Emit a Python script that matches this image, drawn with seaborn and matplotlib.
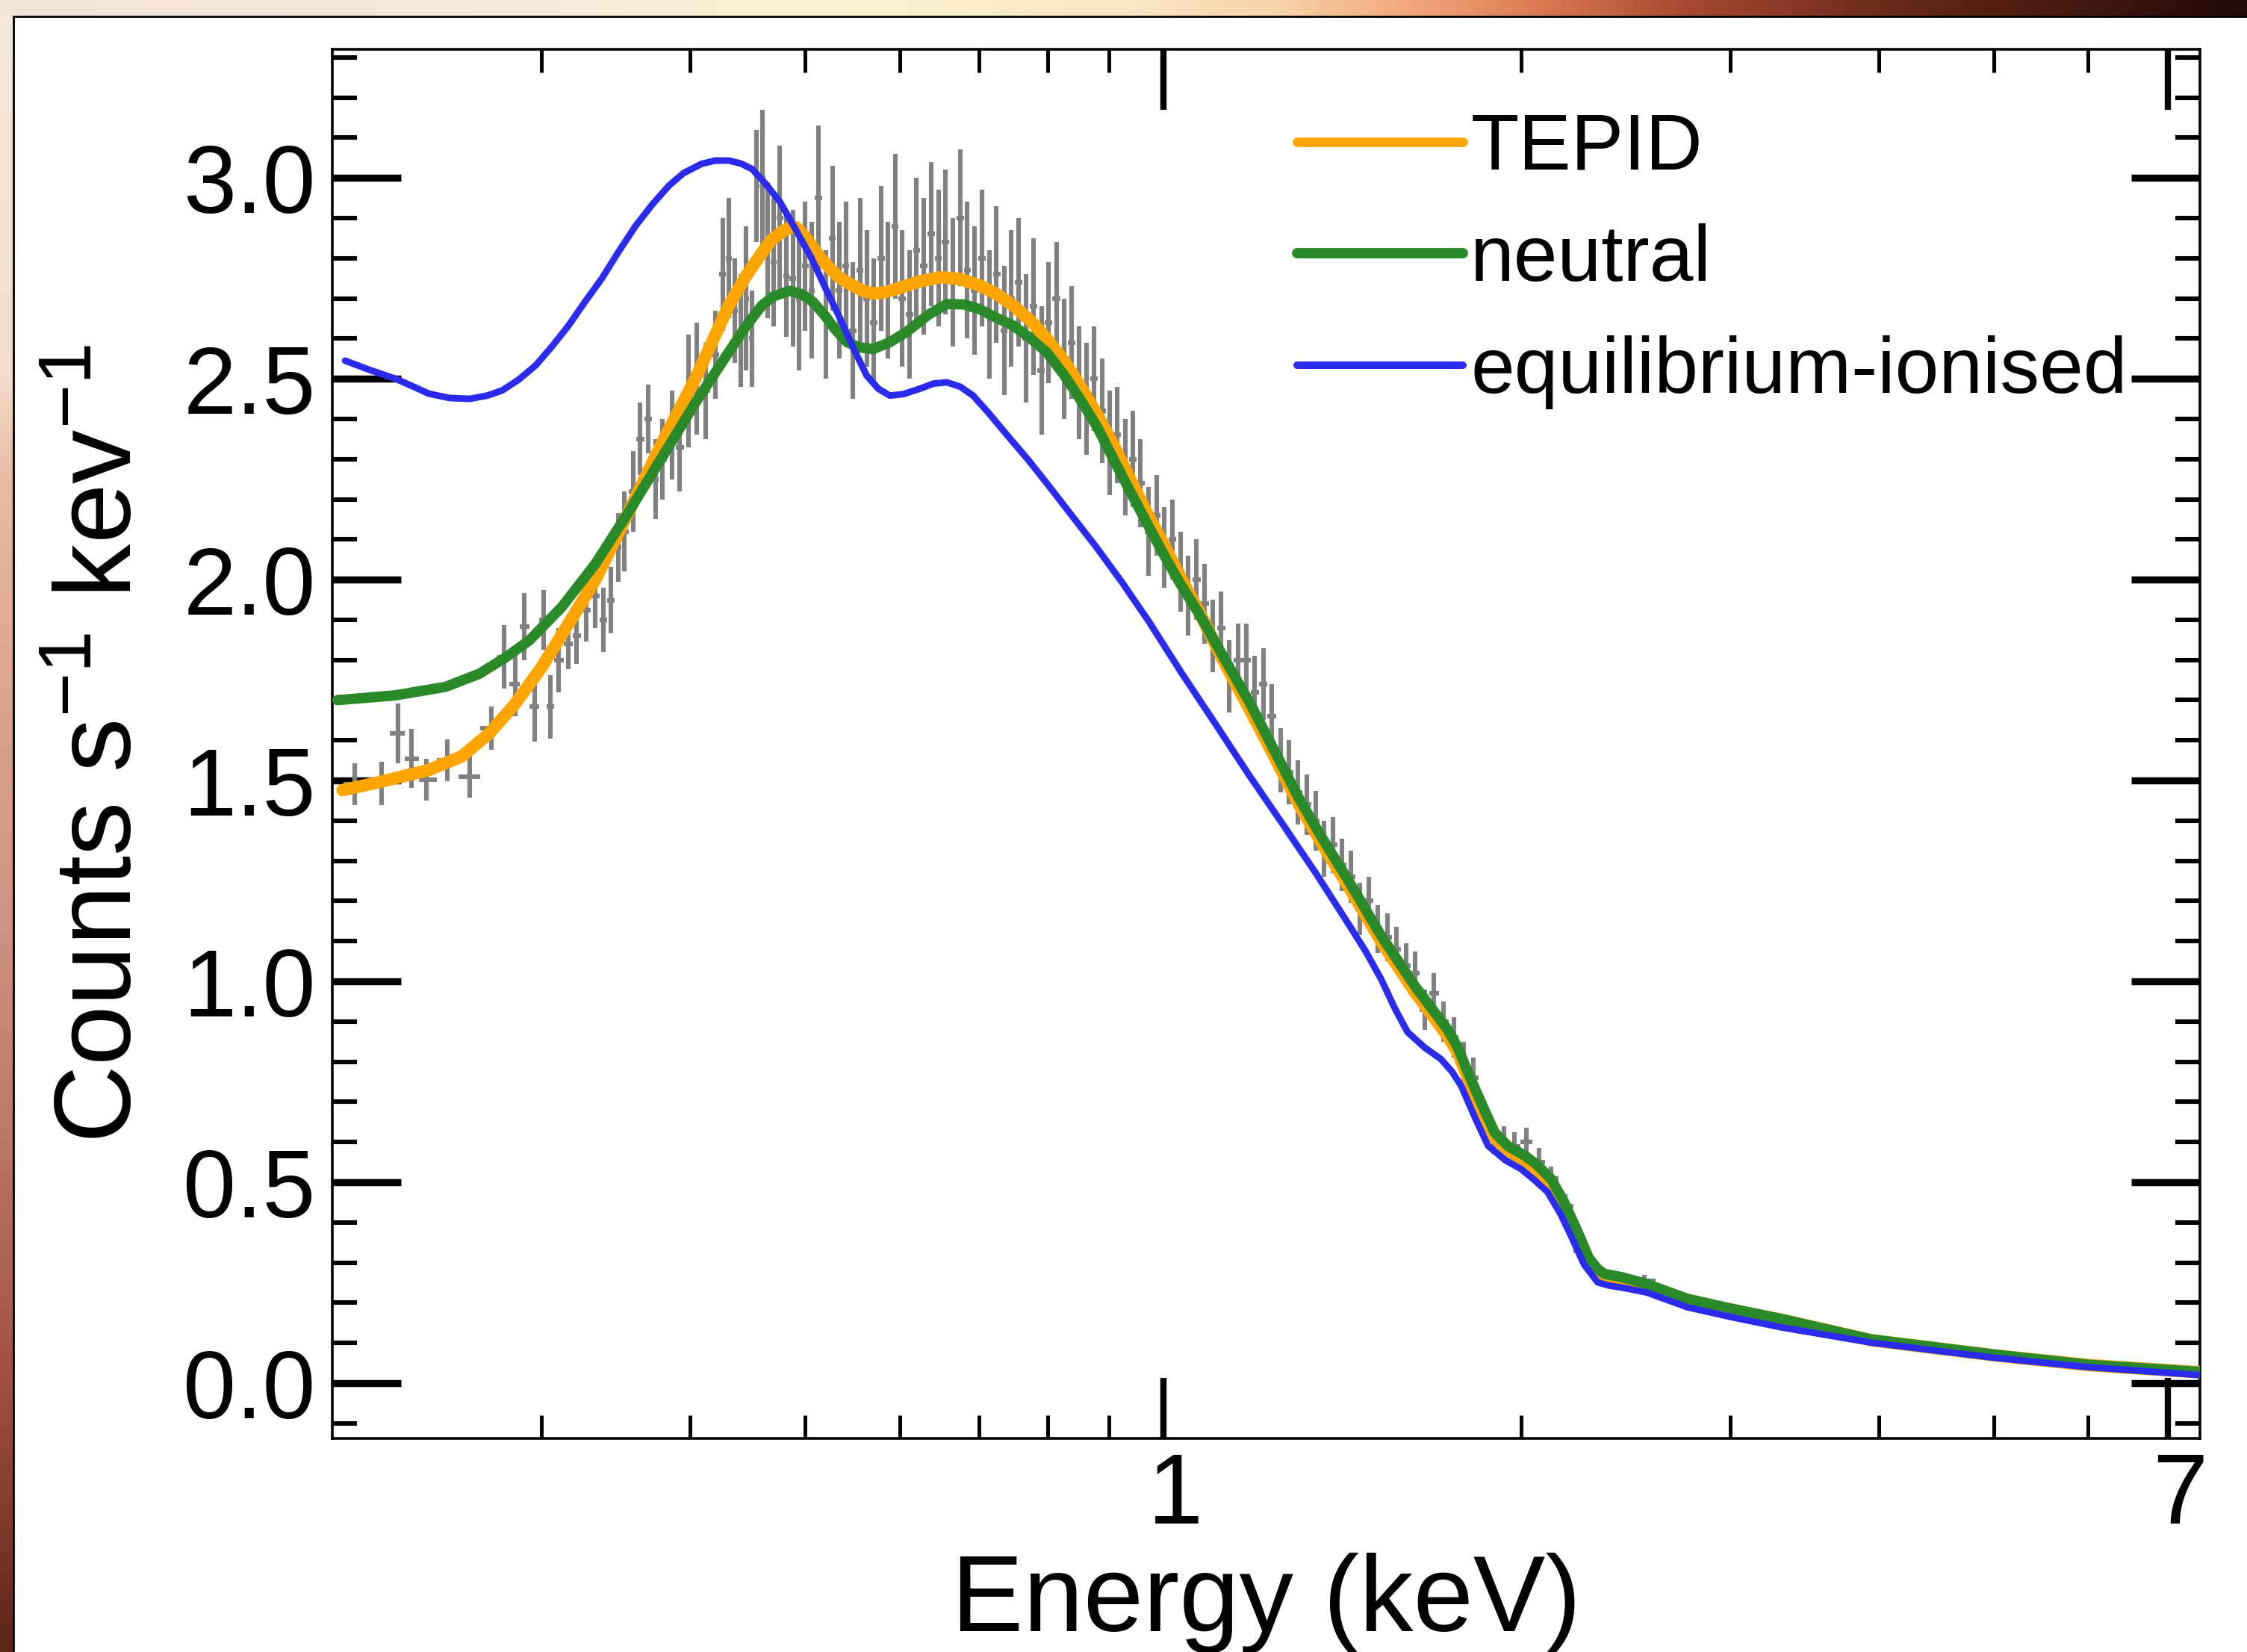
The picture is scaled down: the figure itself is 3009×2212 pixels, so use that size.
import numpy as np
import matplotlib
matplotlib.use("Agg")
import matplotlib.pyplot as plt
import matplotlib.transforms as mtransforms
import seaborn as sns
from matplotlib.colors import LinearSegmentedColormap
from matplotlib.ticker import FixedLocator, FixedFormatter, MultipleLocator, NullFormatter
from matplotlib.lines import Line2D

# ---------------- data ----------------
data_energy = [
    0.209, 0.220, 0.227, 0.233, 0.240, 0.250, 0.261, 0.272, 0.279, 0.285,
    0.290, 0.296, 0.301, 0.305, 0.310, 0.316, 0.321, 0.327, 0.333, 0.338,
    0.343, 0.348,
    0.352, 0.358, 0.363, 0.369, 0.374, 0.379, 0.386, 0.392, 0.399, 0.405,
    0.412, 0.420, 0.426, 0.431, 0.436, 0.441, 0.446, 0.451, 0.455, 0.460,
    0.465, 0.470, 0.476, 0.482, 0.488, 0.494, 0.500, 0.506, 0.513, 0.520,
    0.527, 0.534, 0.541, 0.548, 0.556, 0.563, 0.571, 0.579, 0.587, 0.595,
    0.603, 0.612, 0.620, 0.629, 0.638, 0.647, 0.656, 0.665, 0.675, 0.684,
    0.694, 0.704, 0.714, 0.724, 0.735, 0.745, 0.756, 0.767, 0.778, 0.790,
    0.801, 0.813, 0.825, 0.837, 0.850, 0.862, 0.875, 0.888, 0.901, 0.915,
    0.929, 0.943, 0.957, 0.972, 0.987, 1.002, 1.018, 1.034, 1.050, 1.067,
    1.084, 1.101, 1.119, 1.137, 1.156, 1.175, 1.194, 1.214, 1.234, 1.255,
    1.276, 1.298, 1.320, 1.343, 1.366, 1.390, 1.414, 1.439, 1.464, 1.490,
    1.516, 1.543, 1.571, 1.600, 1.629, 1.659, 1.690, 1.722, 1.755, 1.789,
    1.824, 1.860, 1.897, 1.935, 1.975, 2.020, 2.070, 2.120, 2.180, 2.250,
    2.330, 2.420, 2.540,
]
data_counts = [
    1.490, 1.493, 1.617, 1.555, 1.502, 1.550, 1.509, 1.630, 1.807, 1.740,
    1.883, 1.684, 1.900, 1.684, 1.800, 1.840, 1.860, 1.924, 1.960, 1.900,
    1.949, 2.080,
    2.12, 2.22, 2.35, 2.40, 2.25, 2.30, 2.36, 2.33, 2.47, 2.50,
    2.47, 2.56, 2.76, 2.80, 2.67, 2.62, 2.70, 2.60, 2.98, 3.00,
    2.82, 2.79, 2.90, 2.755, 2.75, 2.70, 2.78, 2.72, 2.95, 2.66,
    2.85, 2.72, 2.78, 2.62, 2.77, 2.70, 2.64, 2.80, 2.72, 2.88,
    2.70, 2.66, 2.82, 2.78, 2.86, 2.80, 2.84, 2.74, 2.90, 2.77,
    2.72, 2.80, 2.66, 2.76, 2.62, 2.70, 2.74, 2.60, 2.68, 2.52,
    2.64, 2.70, 2.55, 2.59, 2.49, 2.45, 2.50, 2.42, 2.34, 2.36,
    2.28, 2.30, 2.24, 2.12, 2.16, 2.08, 2.10, 2.02, 1.96, 2.00,
    1.94, 1.86, 1.88, 1.76, 1.80, 1.80, 1.72, 1.74, 1.66, 1.55,
    1.52, 1.47, 1.44, 1.40, 1.33, 1.34, 1.29, 1.26, 1.18, 1.20,
    1.13, 1.11, 1.08, 1.04, 1.02, 0.93, 0.97, 0.90, 0.86, 0.80,
    0.76, 0.66, 0.61, 0.60, 0.59, 0.60, 0.55, 0.51, 0.44, 0.33,
    0.27, 0.26, 0.255,
]
data_err = [
    0.052, 0.054, 0.075, 0.073, 0.052, 0.052, 0.052, 0.054, 0.079, 0.080,
    0.083, 0.087, 0.075, 0.079, 0.080, 0.062, 0.070, 0.079, 0.080, 0.080,
    0.083, 0.085,
    0.10, 0.10, 0.09, 0.085, 0.10, 0.10, 0.11, 0.11, 0.14, 0.14,
    0.12, 0.11, 0.14, 0.15, 0.13, 0.14, 0.18, 0.12, 0.14, 0.17,
    0.17, 0.16, 0.18, 0.15, 0.17, 0.18, 0.16, 0.17, 0.18, 0.16,
    0.18, 0.17, 0.16, 0.17, 0.18, 0.17, 0.16, 0.18, 0.17, 0.18,
    0.17, 0.16, 0.18, 0.17, 0.18, 0.17, 0.18, 0.16, 0.17, 0.17,
    0.16, 0.17, 0.16, 0.17, 0.16, 0.17, 0.16, 0.16, 0.17, 0.16,
    0.15, 0.14, 0.15, 0.14, 0.14, 0.14, 0.13, 0.13, 0.13, 0.12,
    0.12, 0.12, 0.11, 0.11, 0.10, 0.10, 0.10, 0.10, 0.10, 0.10,
    0.10, 0.09, 0.09, 0.09, 0.09, 0.09, 0.09, 0.09, 0.08, 0.08,
    0.08, 0.08, 0.075, 0.075, 0.07, 0.07, 0.065, 0.065, 0.065, 0.06,
    0.06, 0.06, 0.055, 0.055, 0.055, 0.05, 0.05, 0.05, 0.05, 0.05,
    0.05, 0.045, 0.04, 0.04, 0.035, 0.035, 0.035, 0.03, 0.03, 0.03,
    0.02, 0.015, 0.015,
]

tepid_energy = [
    0.204, 0.219, 0.241, 0.257, 0.271, 0.285, 0.300, 0.316, 0.333, 0.355,
    0.378, 0.404, 0.431, 0.446, 0.460, 0.468, 0.479, 0.485, 0.491, 0.497,
    0.505, 0.515, 0.525, 0.535, 0.546, 0.558, 0.570, 0.583, 0.597, 0.620,
    0.649, 0.675, 0.701, 0.725, 0.748, 0.773, 0.798, 0.825, 0.851, 0.880,
    0.908, 0.938, 0.968, 1.000, 1.032, 1.072, 1.125, 1.181, 1.240, 1.301,
    1.365, 1.433, 1.525, 1.627, 1.680, 1.734, 1.770, 1.804, 1.850, 1.900,
    1.950, 2.013, 2.060, 2.120, 2.170, 2.220, 2.280, 2.320, 2.350, 2.430,
    2.550, 2.760, 3.000, 3.310, 3.940, 5.010, 6.000, 7.450]
tepid_counts = [
    1.476, 1.496, 1.526, 1.560, 1.617, 1.691, 1.782, 1.890, 2.000, 2.168,
    2.335, 2.500, 2.682, 2.757, 2.815, 2.845, 2.868, 2.876, 2.877, 2.862,
    2.835, 2.800, 2.773, 2.750, 2.735, 2.720, 2.712, 2.715, 2.724, 2.740,
    2.753, 2.748, 2.732, 2.710, 2.682, 2.645, 2.600, 2.545, 2.483, 2.410,
    2.335, 2.250, 2.168, 2.090, 2.010, 1.920, 1.795, 1.680, 1.560, 1.440,
    1.335, 1.235, 1.100, 0.975, 0.920, 0.865, 0.822, 0.760, 0.685, 0.612,
    0.578, 0.555, 0.532, 0.497, 0.445, 0.385, 0.305, 0.278, 0.266, 0.256,
    0.243, 0.207, 0.183, 0.158, 0.107, 0.069, 0.045, 0.027]

neutral_energy = [
    0.202, 0.226, 0.249, 0.266, 0.280, 0.293, 0.312, 0.333, 0.355, 0.378,
    0.404, 0.431, 0.446, 0.4595, 0.470, 0.485, 0.497, 0.508, 0.520, 0.530,
    0.542, 0.555, 0.570, 0.588, 0.608, 0.635, 0.658, 0.680, 0.701, 0.720,
    0.748, 0.770, 0.798, 0.825, 0.851, 0.880, 0.908, 0.938, 0.968, 1.000,
    1.032, 1.072, 1.125, 1.181, 1.240, 1.301, 1.365, 1.433, 1.525, 1.627,
    1.680, 1.734, 1.770, 1.804, 1.850, 1.900, 1.950, 2.013, 2.060, 2.120,
    2.170, 2.220, 2.280, 2.320, 2.350, 2.430, 2.550, 2.760, 3.000, 3.310,
    3.940, 5.010, 6.000, 7.450]
neutral_counts = [
    1.700, 1.712, 1.733, 1.766, 1.807, 1.849, 1.932, 2.040, 2.168, 2.300,
    2.440, 2.566, 2.632, 2.682, 2.705, 2.719, 2.710, 2.690, 2.655, 2.622,
    2.591, 2.578, 2.574, 2.590, 2.616, 2.660, 2.686, 2.685, 2.673, 2.655,
    2.632, 2.605, 2.566, 2.510, 2.450, 2.380, 2.300, 2.220, 2.143, 2.065,
    1.993, 1.915, 1.805, 1.697, 1.575, 1.455, 1.350, 1.249, 1.114, 0.990,
    0.935, 0.881, 0.835, 0.774, 0.700, 0.624, 0.590, 0.567, 0.545, 0.508,
    0.455, 0.392, 0.312, 0.284, 0.272, 0.264, 0.247, 0.210, 0.186, 0.160,
    0.109, 0.071, 0.046, 0.028]

equil_energy = [
    0.205, 0.215, 0.226, 0.235, 0.241, 0.251, 0.261, 0.270, 0.278, 0.287,
    0.2965, 0.306, 0.316, 0.326, 0.337, 0.348, 0.360, 0.372, 0.384, 0.395,
    0.409, 0.420, 0.431, 0.441, 0.451, 0.463, 0.476, 0.490, 0.506, 0.520,
    0.535, 0.549, 0.563, 0.576, 0.589, 0.605, 0.624, 0.641, 0.658, 0.675,
    0.692, 0.713, 0.738, 0.770, 0.798, 0.835, 0.879, 0.925, 0.973, 1.035,
    1.107, 1.180, 1.260, 1.345, 1.433, 1.480, 1.525, 1.565, 1.605, 1.660,
    1.712, 1.750, 1.781, 1.830, 1.876, 1.940, 2.000, 2.050, 2.105, 2.160,
    2.203, 2.260, 2.320, 2.370, 2.430, 2.550, 2.760, 3.000, 3.310, 3.940,
    5.010, 6.000, 7.450]
equil_counts = [
    2.545, 2.522, 2.500, 2.478, 2.463, 2.452, 2.450, 2.458, 2.471, 2.498,
    2.533, 2.580, 2.632, 2.690, 2.749, 2.815, 2.881, 2.935, 2.981, 3.012,
    3.035, 3.043, 3.043, 3.036, 3.022, 2.985, 2.940, 2.875, 2.800, 2.725,
    2.649, 2.575, 2.508, 2.475, 2.458, 2.462, 2.475, 2.488, 2.491, 2.480,
    2.458, 2.415, 2.362, 2.298, 2.240, 2.165, 2.080, 1.990, 1.895, 1.770,
    1.640, 1.515, 1.392, 1.268, 1.141, 1.075, 1.006, 0.935, 0.874, 0.835,
    0.807, 0.775, 0.740, 0.660, 0.591, 0.555, 0.533, 0.507, 0.476, 0.420,
    0.367, 0.295, 0.251, 0.243, 0.238, 0.226, 0.189, 0.165, 0.139, 0.101,
    0.063, 0.040, 0.020]

series_labels = ["TEPID", "neutral", "equilibrium-ionised"]
x_major_ticks = [1, 7]
x_major_labels = ["1", "7"]
x_minor_ticks = [0.3, 0.4, 0.5, 0.6, 0.7, 0.8, 0.9, 2, 3, 4, 5, 6]

# ---------------- styling ----------------
sns.set_theme(style="ticks")
plt.rcParams["font.family"] = ["Liberation Sans", "DejaVu Sans"]
plt.rcParams["mathtext.fontset"] = "custom"
plt.rcParams["mathtext.rm"] = "Liberation Sans"
plt.rcParams["mathtext.it"] = "Liberation Sans:italic"
plt.rcParams["mathtext.bf"] = "Liberation Sans:bold"
plt.rcParams["text.color"] = "black"
plt.rcParams["axes.labelcolor"] = "black"
plt.rcParams["xtick.color"] = "black"
plt.rcParams["ytick.color"] = "black"

W, H, DPI = 3009, 2212, 200
fig = plt.figure(figsize=(W / DPI, H / DPI), dpi=DPI)
fig.patch.set_facecolor("white")

# decorative backdrop strips (top and left)
top_cmap = LinearSegmentedColormap.from_list("top", [
    (0.00, "#f3e4d8"), (0.25, "#f7ead9"), (0.36, "#fbf2d3"), (0.50, "#f8e8c4"),
    (0.57, "#f6d2a8"), (0.63, "#f2a677"), (0.69, "#d9774f"), (0.75, "#a84a32"),
    (0.85, "#652719"), (1.00, "#220b08")])
left_cmap = LinearSegmentedColormap.from_list("left", [
    (0.00, "#f4e8dc"), (0.22, "#f1dccb"), (0.28, "#e8bca4"), (0.40, "#dca690"),
    (0.55, "#cf9584"), (0.68, "#bd7868"), (0.80, "#a65a4a"), (0.90, "#8a4030"),
    (1.00, "#5e2418")])
ax_top = fig.add_axes([0, 1 - 22 / H, 1, 22 / H])
ax_top.imshow(np.linspace(0, 1, 512)[None, :], cmap=top_cmap, aspect="auto")
ax_top.axis("off")
ax_left = fig.add_axes([0, 0, 18 / W, 1 - 22 / H])
ax_left.imshow(np.linspace(0, 1, 512)[:, None], cmap=left_cmap, aspect="auto")
ax_left.axis("off")
fig.add_artist(Line2D([18 / W, 1], [1 - 22 / H, 1 - 22 / H], transform=fig.transFigure,
                      color="black", lw=1.0))
fig.add_artist(Line2D([18 / W, 18 / W], [0, 1 - 22 / H], transform=fig.transFigure,
                      color="black", lw=1.0))

# main axes
ax = fig.add_axes([445 / W, 1 - 1926 / H, (2946 - 445) / W, (1926 - 66) / H])
ax.set_facecolor("white")
ax.set_xscale("log")

E = np.array(data_energy)
logE = np.log10(E)
mids = (logE[1:] + logE[:-1]) / 2
lo_edge = np.concatenate([[logE[0] - (logE[1] - logE[0]) / 2], mids])
hi_edge = np.concatenate([mids, [logE[-1] + (logE[-1] - logE[-2]) / 2]])
xlo = np.minimum(E - 10 ** lo_edge, 0.022 * E)
xhi = np.minimum(10 ** hi_edge - E, 0.022 * E)
ax.errorbar(E, data_counts, yerr=data_err, xerr=[xlo, xhi], fmt="none",
            ecolor="#808080", elinewidth=2.2, capsize=0, zorder=2)

sns.lineplot(x=tepid_energy, y=tepid_counts, ax=ax, color="#ffa500", lw=6.0,
             sort=False, estimator=None, legend=False, zorder=3)
sns.lineplot(x=neutral_energy, y=neutral_counts, ax=ax, color="#2a8a2a", lw=5.0,
             sort=False, estimator=None, legend=False, zorder=4)
sns.lineplot(x=equil_energy, y=equil_counts, ax=ax, color="#2b2bee", lw=3.2,
             sort=False, estimator=None, legend=False, zorder=5)

ax.set_xlim(0.2, 7.45)
ax.set_ylim(-0.1375, 3.32)

ax.xaxis.set_major_locator(FixedLocator(x_major_ticks))
ax.xaxis.set_major_formatter(FixedFormatter(x_major_labels))
ax.xaxis.set_minor_locator(FixedLocator(x_minor_ticks))
ax.xaxis.set_minor_formatter(NullFormatter())
ax.yaxis.set_major_locator(MultipleLocator(0.5))
ax.yaxis.set_minor_locator(MultipleLocator(0.1))

ax.tick_params(axis="x", which="major", direction="in", length=29, width=3.0,
               top=True, bottom=True, labelsize=48, pad=6, color="black",
               labelcolor="black")
ax.tick_params(axis="x", which="minor", direction="in", length=11, width=1.8,
               top=True, bottom=True, color="black")
ax.tick_params(axis="y", which="major", direction="in", length=33, width=3.4,
               left=True, right=True, labelsize=46, pad=8, color="black",
               labelcolor="black")
ax.tick_params(axis="y", which="minor", direction="in", length=12, width=2.2,
               left=True, right=True, color="black")
for s in ax.spines.values():
    s.set_color("black")
    s.set_linewidth(1.3)

# x tick labels sit slightly right of their ticks in the reference
shift = mtransforms.ScaledTranslation(6 / 72, 0, fig.dpi_scale_trans)
for lab in ax.get_xticklabels():
    lab.set_transform(lab.get_transform() + shift)

ax.set_xlabel("Energy (keV)", fontsize=52, labelpad=4, color="black")
ax.set_ylabel("Counts s$^{-1}$ kev$^{-1}$", fontsize=52, labelpad=14, color="black")

handles = [Line2D([], [], color="#ffa500", lw=4.6),
           Line2D([], [], color="#2a8a2a", lw=5.0),
           Line2D([], [], color="#2b2bee", lw=3.6)]
leg = ax.legend(handles, series_labels, loc="upper left", bbox_to_anchor=(0.5166, 0.955),
                frameon=False, fontsize=38, handlelength=2.1, handletextpad=0.1,
                labelspacing=0.48, borderpad=0, borderaxespad=0)
for t in leg.get_texts():
    t.set_color("black")

fig.savefig("out.png", dpi=DPI, facecolor=fig.get_facecolor())
